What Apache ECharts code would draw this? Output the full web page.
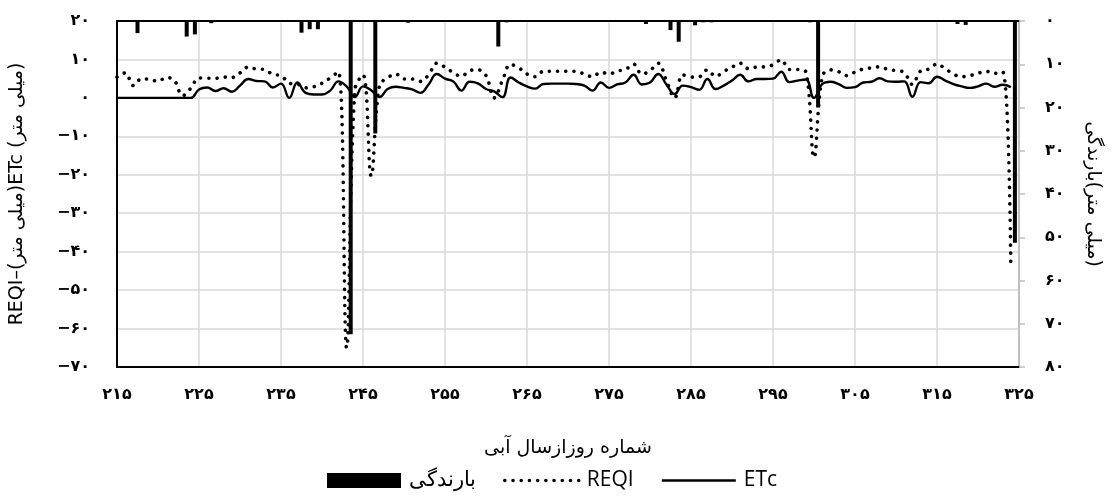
<!DOCTYPE html>
<html><head><meta charset="utf-8">
<script src="https://cdn.jsdelivr.net/npm/echarts@6/dist/echarts.min.js"></script>
<style>html,body{margin:0;padding:0;background:#fff}#c{width:1113px;height:498px}</style>
</head><body><div id="c"></div>
<script>
// Day of water year (x categories)
const days = [215,216,217,218,219,220,221,222,223,224,
  225,226,227,228,229,230,231,232,233,234,
  235,236,237,238,239,240,241,242,243,244,
  245,246,247,248,249,250,251,252,253,254,
  255,256,257,258,259,260,261,262,263,264,
  265,266,267,268,269,270,271,272,273,274,
  275,276,277,278,279,280,281,282,283,284,
  285,286,287,288,289,290,291,292,293,294,
  295,296,297,298,299,300,301,302,303,304,
  305,306,307,308,309,310,311,312,313,314,
  315,316,317,318,319,320,321,322,323,324];
// ETc (mm)
const etc = [0,0,0,0,0,0,0,0,0,0,
  2.2,2.7,1.8,2.5,1.6,3.2,4.9,4.4,4.3,2.7,
  3.7,0,4.0,1.3,0.9,0.9,1.9,4.3,3.0,0.2,
  3.0,2.0,0.2,2.3,2.9,2.6,2.2,1.3,3.5,6.2,
  5.0,4.3,1.9,4.2,3.8,2.3,1.7,0.2,5.3,4.0,
  3.0,2.4,3.6,3.7,3.7,3.7,3.6,3.2,1.9,4.0,
  2.6,3.5,4.0,6.0,3.5,4.0,6.2,3.5,1.0,3.2,
  2.8,2.1,4.9,2.3,3.2,4.5,6.0,4.3,4.9,4.9,
  5.0,6.8,4.1,4.5,4.8,0.0,3.6,4.2,3.6,2.6,
  2.8,4.0,4.2,5.1,4.3,4.2,4.3,0.3,4.1,3.8,
  5.5,4.5,3.6,3.0,2.6,3.0,3.7,2.9,3.4,2.8];
// REQI (mm)
const reqi = [5.4,6.5,3.2,5.0,4.8,4.3,5.3,4.5,0.6,2.5,
  5.2,5.1,5.1,5.4,5.3,6.5,8.0,7.5,7.4,6.1,
  5.8,3.8,3.6,2.6,2.9,3.8,5.2,6.8,-65,2.0,
  6.0,-20.3,3.2,5.2,6.2,4.9,4.9,4.3,6.0,9.0,
  8.0,6.6,5.6,7.1,7.3,5.8,0.0,4.5,8.7,7.8,
  6.2,5.5,6.9,6.9,6.9,6.9,6.9,6.2,5.5,6.7,
  6.2,7.0,7.4,8.8,6.2,7.1,9.0,4.5,0.0,6.0,
  5.4,5.5,7.3,5.6,6.9,8.0,9.0,7.6,8.0,8.1,
  8.6,9.9,7.4,7.4,6.8,-15.5,5.5,7.3,6.8,5.8,
  6.7,7.5,7.8,8.1,7.4,7.1,6.6,3.5,7.0,7.5,
  8.8,7.6,6.2,5.5,5.8,6.4,6.9,6.4,6.8,-44];
// Rainfall (mm), only days with rain
const rainDays = [217,223,224,226,237,238,239,243,246,250,261,262,279,282,283,285,286,287,299,300,317,318,324];
const rainMm   = [2.8,3.6,3.1,0.5,2.7,1.9,1.9,72.4,26.0,0.4,5.9,0.3,0.7,2.1,4.8,1.0,0.3,0.3,0.3,20.0,0.7,0.9,51.3];

const names = {etc:'ETc', reqi:'REQI', rain:'بارندگی'};
const xTitle = 'شماره روزازسال آبی';
const yLeftTitle = 'REQI–(میلی متر)ETc (میلی متر)';
const yRightTitle = 'بارندگی\u200E(میلی متر)';

const fa = '۰۱۲۳۴۵۶۷۸۹';
function toFa(v){ const s = String(Math.abs(v)).replace(/\d/g, d => fa[+d]); return v < 0 ? '−' + s : s; }

const pair = (xs, ys) => xs.map((x,i)=>[x, ys[i]]);
const tickFont = {color:'#000', fontFamily:'DejaVu Sans', fontWeight:'bold', fontSize:16};
const titleFont = {color:'#000', fontFamily:'DejaVu Sans', fontSize:19};
const hideSym = {color:'rgba(0,0,0,0)', borderColor:'rgba(0,0,0,0)', borderWidth:0};
const reqiLine = {color:'#000', width:3.6, type:[0.01, 8.2], cap:'round'};
const etcLine = {color:'#000', width:2.4};

const chart = echarts.init(document.getElementById('c'), null, {renderer:'canvas'});
chart.setOption({
  animation:false,
  backgroundColor:'#fff',
  grid:{left:115, right:94, top:21, bottom:131, containLabel:false},
  legend:{
    left:322, top:465, itemGap:27, itemWidth:74, itemHeight:15,
    textStyle:{color:'#000', fontFamily:'Open Sans', fontSize:21, padding:[0,0,0,3]},
    data:[{name:names.rain, icon:'rect'},
          {name:names.reqi, itemStyle:hideSym, lineStyle:reqiLine},
          {name:names.etc, itemStyle:hideSym, lineStyle:etcLine}]
  },
  xAxis:[
    {type:'value', min:215, max:325, interval:10, position:'bottom',
     axisLine:{onZero:false, lineStyle:{color:'#000', width:2}},
     axisTick:{show:false},
     axisLabel:Object.assign({formatter:toFa, margin:20}, tickFont),
     splitLine:{show:true, lineStyle:{color:'#d9d9d9', width:1.5}},
     name:xTitle, nameLocation:'middle', nameGap:72, nameTextStyle:titleFont},
    {type:'value', min:214.5, max:324.5, position:'top',
     axisLine:{onZero:false, lineStyle:{color:'#000', width:2}},
     axisTick:{show:false}, axisLabel:{show:false}, splitLine:{show:false}}
  ],
  yAxis:[
    {type:'value', min:-70, max:20, interval:10, position:'left',
     axisLine:{show:true, onZero:false, lineStyle:{color:'#000', width:2}},
     axisTick:{show:false},
     axisLabel:Object.assign({formatter:toFa, margin:27}, tickFont),
     splitLine:{show:true, lineStyle:{color:'#d9d9d9', width:1.5}},
     name:yLeftTitle, nameLocation:'middle', nameGap:90, nameRotate:90, nameTextStyle:titleFont},
    {type:'value', min:0, max:80, interval:10, inverse:true, position:'right',
     axisLine:{show:true, onZero:false, lineStyle:{color:'#bfbfbf', width:2}},
     axisTick:{show:true, length:6, lineStyle:{color:'#bfbfbf', width:1.5}},
     axisLabel:Object.assign({formatter:toFa, margin:26, align:'left'}, tickFont),
     splitLine:{show:false},
     name:yRightTitle, nameLocation:'middle', nameGap:64, nameRotate:-90, nameTextStyle:titleFont}
  ],
  series:[
    {name:names.rain, type:'bar', xAxisIndex:1, yAxisIndex:1, barWidth:4, z:5,
     itemStyle:{color:'#000'}, data:pair(rainDays, rainMm)},
    {name:names.reqi, type:'line', xAxisIndex:0, yAxisIndex:0, symbol:'none', smooth:0.4, z:3,
     lineStyle:reqiLine, itemStyle:{color:'#000'},
     data:pair(days, reqi)},
    {name:names.etc, type:'line', xAxisIndex:0, yAxisIndex:0, symbol:'none', smooth:0.45, z:4,
     lineStyle:etcLine, itemStyle:{color:'#000'},
     data:pair(days, etc)}
  ]
});
</script></body></html>
